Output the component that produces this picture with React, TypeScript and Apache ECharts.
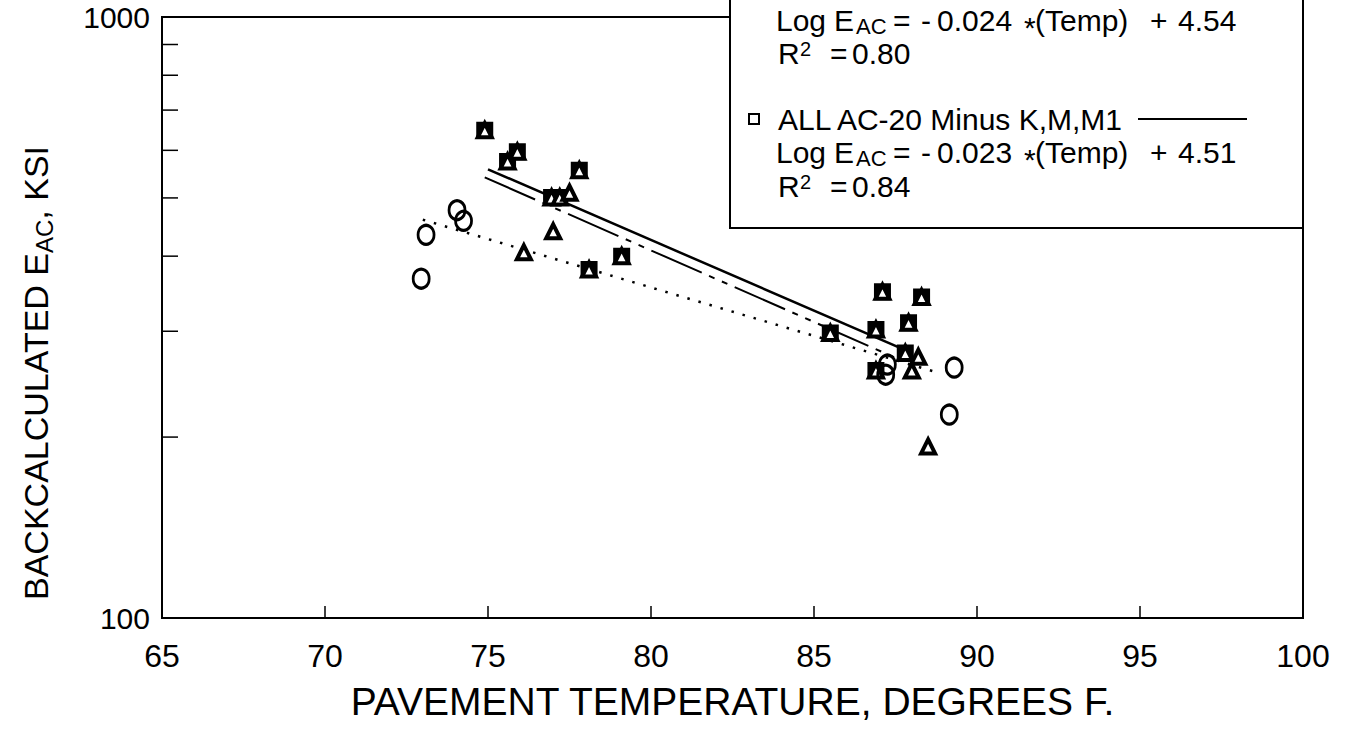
import React, { useEffect, useRef } from "react";
import * as echarts from "echarts";

// ---- axis ----
const X_MIN = 65;
const X_MAX = 100;
const X_STEP = 5;
const Y_MIN = 100;
const Y_MAX = 1000;
const minorTickValues = [200, 300, 400, 500, 600, 700, 800, 900];

// ---- ALL AC-20 Minus K,M,M1 (squares) ----
const squareTemp = [74.9, 75.9, 75.6, 77.8, 76.95, 77.2, 78.1, 79.1, 87.1, 88.3, 87.9, 86.9, 85.5, 87.8, 86.9];
const squareE = [648, 597, 575, 556, 501, 501, 380, 400, 349, 342, 310, 302, 298, 276, 258];

// ---- K, M, M1 sections (triangles only, part of ALL AC-20) ----
const kmTemp = [77.5, 77.0, 76.1, 88.2, 88.0, 88.5];
const kmE = [510, 440, 406, 272, 258, 193];

// ---- third group (circles) ----
const circleTemp = [74.05, 74.25, 73.1, 72.95, 87.25, 87.2, 89.3, 89.15];
const circleE = [477, 458, 434, 367, 264, 254, 261, 218];

// ---- regression lines ----
const solidTemp = [75.0, 87.8];
const solidE = [558, 279];
const dashTemp = [74.9, 87.5];
const dashE = [541, 271];
const dotTemp = [73.0, 88.8];
const dotE = [460, 256];

const FONT = '"Liberation Sans", Arial, Helvetica, sans-serif';

const pairs = (xs: number[], ys: number[]) => xs.map((x, i) => [x, ys[i]]);

function txt(text: string, x: number, y: number, size: number, extra: any = {}) {
  return {
    type: "text",
    x,
    y,
    z: 110,
    style: {
      text,
      font: `${size}px ${FONT}`,
      fill: "#000",
      align: "left",
      verticalAlign: "middle",
      ...extra,
    },
  };
}

function eqLine(cy: number, coef: string, icpt: string) {
  return [
    txt("Log", 776, cy, 30),
    txt("E", 834, cy, 30),
    txt("AC", 856, cy + 6, 22),
    txt("=", 893, cy, 30),
    txt("-", 921, cy, 30),
    txt(coef, 937, cy, 30),
    txt("*", 1024, cy + 7, 30),
    txt("(Temp)", 1035, cy, 30),
    txt("+", 1150, cy, 30),
    txt(icpt, 1178, cy, 30),
  ];
}

function r2Line(cy: number, val: string) {
  return [
    txt("R", 778, cy, 30),
    txt("2", 800, cy - 4, 20),
    txt("=", 830, cy, 30),
    txt(val, 852, cy, 30),
  ];
}

export default function App() {
  const ref = useRef<HTMLDivElement>(null);

  useEffect(() => {
    if (!ref.current) return;
    const chart = echarts.init(ref.current, undefined, { renderer: "svg" });

    const triData = pairs(squareTemp, squareE).concat(pairs(kmTemp, kmE));

    const option: any = {
      animation: false,
      backgroundColor: "#fff",
      grid: {
        left: 162,
        right: 55,
        top: 17,
        bottom: 128,
        show: true,
        borderColor: "#000",
        borderWidth: 2,
        backgroundColor: "transparent",
      },
      xAxis: {
        type: "value",
        min: X_MIN,
        max: X_MAX,
        interval: X_STEP,
        name: "PAVEMENT TEMPERATURE, DEGREES F.",
        nameLocation: "middle",
        nameGap: 64,
        nameTextStyle: { fontFamily: FONT, fontSize: 39, color: "#000" },
        axisLine: { show: true, lineStyle: { color: "#000", width: 2 } },
        axisTick: { show: true, inside: true, length: 12, lineStyle: { color: "#000", width: 1.5 } },
        axisLabel: { fontFamily: FONT, fontSize: 32, color: "#000", margin: 22 },
        splitLine: { show: false },
      },
      yAxis: {
        type: "log",
        logBase: 10,
        min: Y_MIN,
        max: Y_MAX,
        axisLine: { show: true, lineStyle: { color: "#000", width: 2 } },
        axisTick: { show: false },
        axisLabel: {
          fontFamily: FONT,
          fontSize: 30,
          color: "#000",
          margin: 12,
          formatter: (v: number) => String(Math.round(v)),
        },
        splitLine: { show: false },
      },
      series: [
        {
          type: "custom",
          silent: true,
          z: 5,
          data: minorTickValues.map((v) => [X_MIN, v]),
          renderItem: (_p: any, api: any) => {
            const p = api.coord([api.value(0), api.value(1)]);
            return {
              type: "line",
              shape: { x1: p[0], y1: p[1], x2: p[0] + 16, y2: p[1] },
              style: { stroke: "#000", lineWidth: 1.5 },
            };
          },
        },
        {
          name: "ALL AC-20 Minus K,M,M1 fit",
          type: "line",
          data: pairs(solidTemp, solidE),
          symbol: "none",
          lineStyle: { color: "#000", width: 2.5, type: "solid" },
          z: 3,
        },
        {
          name: "ALL AC-20 fit",
          type: "line",
          data: pairs(dashTemp, dashE),
          symbol: "none",
          lineStyle: { color: "#000", width: 2, type: [55, 8, 6, 8, 6, 8] },
          z: 3,
        },
        {
          name: "Circle fit",
          type: "line",
          data: pairs(dotTemp, dotE),
          symbol: "none",
          lineStyle: { color: "#000", width: 2.5, type: [2.5, 9] },
          z: 3,
        },
        {
          name: "ALL AC-20 Minus K,M,M1",
          type: "scatter",
          data: pairs(squareTemp, squareE),
          symbol: "rect",
          symbolSize: 15,
          itemStyle: { color: "#000", borderColor: "#000", borderWidth: 2, opacity: 1 },
          z: 4,
        },
        {
          name: "ALL AC-20",
          type: "scatter",
          data: triData,
          symbol: "triangle",
          symbolSize: 14,
          itemStyle: { color: "#fff", borderColor: "#000", borderWidth: 4, opacity: 1 },
          z: 4,
        },
        {
          name: "Circles",
          type: "scatter",
          data: pairs(circleTemp, circleE),
          symbol: "circle",
          symbolSize: [16, 19],
          itemStyle: { color: "transparent", borderColor: "#000", borderWidth: 3, opacity: 1 },
          z: 4,
        },
      ],
      graphic: [
        // y-axis title
        {
          type: "text",
          x: 36,
          y: 600,
          rotation: Math.PI / 2,
          style: {
            text: "BACKCALCULATED E{s|AC}, KSI",
            font: `34px ${FONT}`,
            fill: "#000",
            align: "left",
            verticalAlign: "middle",
            lineHeight: 40,
            rich: {
              s: {
                fontSize: 24,
                fontFamily: FONT,
                fill: "#000",
                lineHeight: 24,
                verticalAlign: "bottom",
              },
            },
          },
        },
        // legend box
        {
          type: "rect",
          z: 100,
          shape: { x: 730, y: -5, width: 573, height: 233 },
          style: { fill: "#fff", stroke: "#000", lineWidth: 2 },
        },
        ...eqLine(20, "0.024", "4.54"),
        ...r2Line(53, "0.80"),
        {
          type: "rect",
          z: 110,
          shape: { x: 749, y: 114, width: 10, height: 10 },
          style: { fill: "#fff", stroke: "#000", lineWidth: 2 },
        },
        txt("ALL AC-20 Minus K,M,M1", 778, 119, 30),
        {
          type: "line",
          z: 110,
          shape: { x1: 1138, y1: 119, x2: 1247, y2: 119 },
          style: { stroke: "#000", lineWidth: 2 },
        },
        ...eqLine(152, "0.023", "4.51"),
        ...r2Line(186, "0.84"),
      ],
    };

    chart.setOption(option);
    return () => chart.dispose();
  }, []);

  return (
    <div
      ref={ref}
      style={{ position: "absolute", left: 0, top: 0, width: 1358, height: 746, background: "#fff" }}
    />
  );
}
